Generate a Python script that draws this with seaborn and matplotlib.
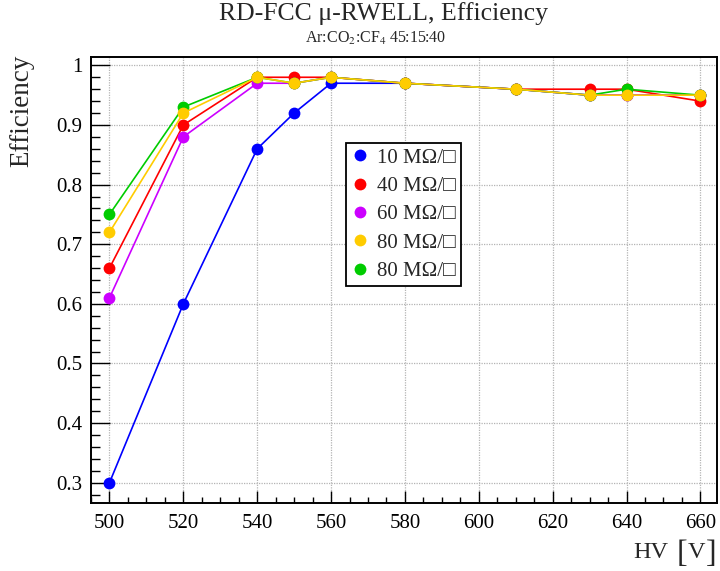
import numpy as np
import pandas as pd
import matplotlib
matplotlib.use("Agg")
import matplotlib.pyplot as plt
import seaborn as sns
from matplotlib.lines import Line2D
from matplotlib.ticker import MultipleLocator, FuncFormatter

# ---------------- data ----------------
hv = [500, 520, 540, 550, 560, 580, 610, 630, 640, 660]
eff_10 = [0.30, 0.60, 0.86, 0.92, 0.97, 0.97, 0.96, 0.95, 0.95, 0.95]
eff_40 = [0.66, 0.90, 0.98, 0.98, 0.98, 0.97, 0.96, 0.96, 0.96, 0.94]
eff_60 = [0.61, 0.88, 0.97, 0.97, 0.98, 0.97, 0.96, 0.95, 0.95, 0.95]
eff_80a = [0.72, 0.92, 0.98, 0.97, 0.98, 0.97, 0.96, 0.95, 0.95, 0.95]
eff_80b = [0.75, 0.93, 0.98, 0.97, 0.98, 0.97, 0.96, 0.95, 0.96, 0.95]
series_labels = ["10 MΩ/□", "40 MΩ/□", "60 MΩ/□", "80 MΩ/□", "80 MΩ/□"]
series_values = [eff_10, eff_40, eff_60, eff_80a, eff_80b]
colors = ["#0000ff", "#ff0000", "#cc00ff", "#ffcc00", "#00cc00"]
draw_order = [0, 1, 2, 4, 3]
x_ticks = [500, 520, 540, 560, 580, 600, 620, 640, 660]
y_ticks = [0.3, 0.4, 0.5, 0.6, 0.7, 0.8, 0.9, 1.0]

# ---------------- style ----------------
sns.set_theme(style="ticks")
plt.rcParams["font.family"] = ["Liberation Serif", "DejaVu Serif", "DejaVu Sans"]
plt.rcParams["mathtext.fontset"] = "stix"

W, H = 720, 571
fig = plt.figure(figsize=(W / 100, H / 100), dpi=100)
ax = fig.add_axes([91 / W, (H - 503) / H, (717 - 91) / W, (503 - 57) / H])

for i in draw_order:
    df = pd.DataFrame({"hv": hv, "eff": series_values[i]})
    sns.lineplot(data=df, x="hv", y="eff", ax=ax, color=colors[i], marker="o",
                 markersize=8.5, markeredgewidth=0, linewidth=1.2, sort=False,
                 estimator=None)

ax.set_xlim(495, 664.5)
ax.set_ylim(0.266, 1.014)
ax.set_xticks(x_ticks)
ax.set_yticks(y_ticks)
ax.xaxis.set_minor_locator(MultipleLocator(5))
ax.yaxis.set_minor_locator(MultipleLocator(0.02))
ax.yaxis.set_major_formatter(FuncFormatter(lambda v, p: f"{v:g}"))
ax.tick_params(which="both", direction="in", top=False, right=False,
               colors="black", width=1.0, labelsize=15)
ax.tick_params(axis="y", which="major", length=13.5, pad=6)
ax.tick_params(axis="y", which="minor", length=6.5)
ax.tick_params(axis="x", which="major", length=8.5, pad=8)
ax.tick_params(axis="x", which="minor", length=4.5)
ax.grid(True, which="major", color="#b4b4b4", linestyle=(0, (1, 1)), linewidth=0.9)
ax.set_axisbelow(True)
for s in ax.spines.values():
    s.set_color("black")
    s.set_linewidth(1.4)
ax.set_xlabel("")
ax.set_ylabel("")

# legend
handles = [Line2D([], [], marker="o", linestyle="none", color=colors[i],
                  markersize=8.5, markeredgewidth=0) for i in range(5)]
leg = ax.legend(handles, series_labels, loc="upper left",
                bbox_to_anchor=((346 - 91) / 626, (503 - 143) / 446),
                fontsize=15, frameon=True, fancybox=False, framealpha=1,
                edgecolor="black", borderpad=0.25, labelspacing=0.42,
                handlelength=0.8, handletextpad=0.45, borderaxespad=0)
leg.get_frame().set_linewidth(1.3)

# titles
fig.text(383.5 / W, (H - 20) / H, "RD-FCC μ-RWELL, Efficiency", ha="center",
         va="baseline", fontsize=18.5)
fig.text(376 / W, (H - 43) / H, r"Ar:CO$_2$:CF$_4$ 45:15:40", ha="center",
         va="baseline", fontsize=11.5)

# y label
fig.text(22 / W, (H - 55) / H, "Efficiency", rotation=90, ha="center", va="top",
         fontsize=19.5)

# x label "HV [V]"
fig.text(633 / W, (H - 558) / H, "HV", ha="left", va="baseline", fontsize=17.5)
fig.text(677 / W, (H - 562) / H, "[", ha="left", va="baseline", fontsize=23)
fig.text(688 / W, (H - 558) / H, "V", ha="left", va="baseline", fontsize=17.5)
fig.text(706 / W, (H - 562) / H, "]", ha="left", va="baseline", fontsize=23)

fig.savefig("out.png", dpi=100)
